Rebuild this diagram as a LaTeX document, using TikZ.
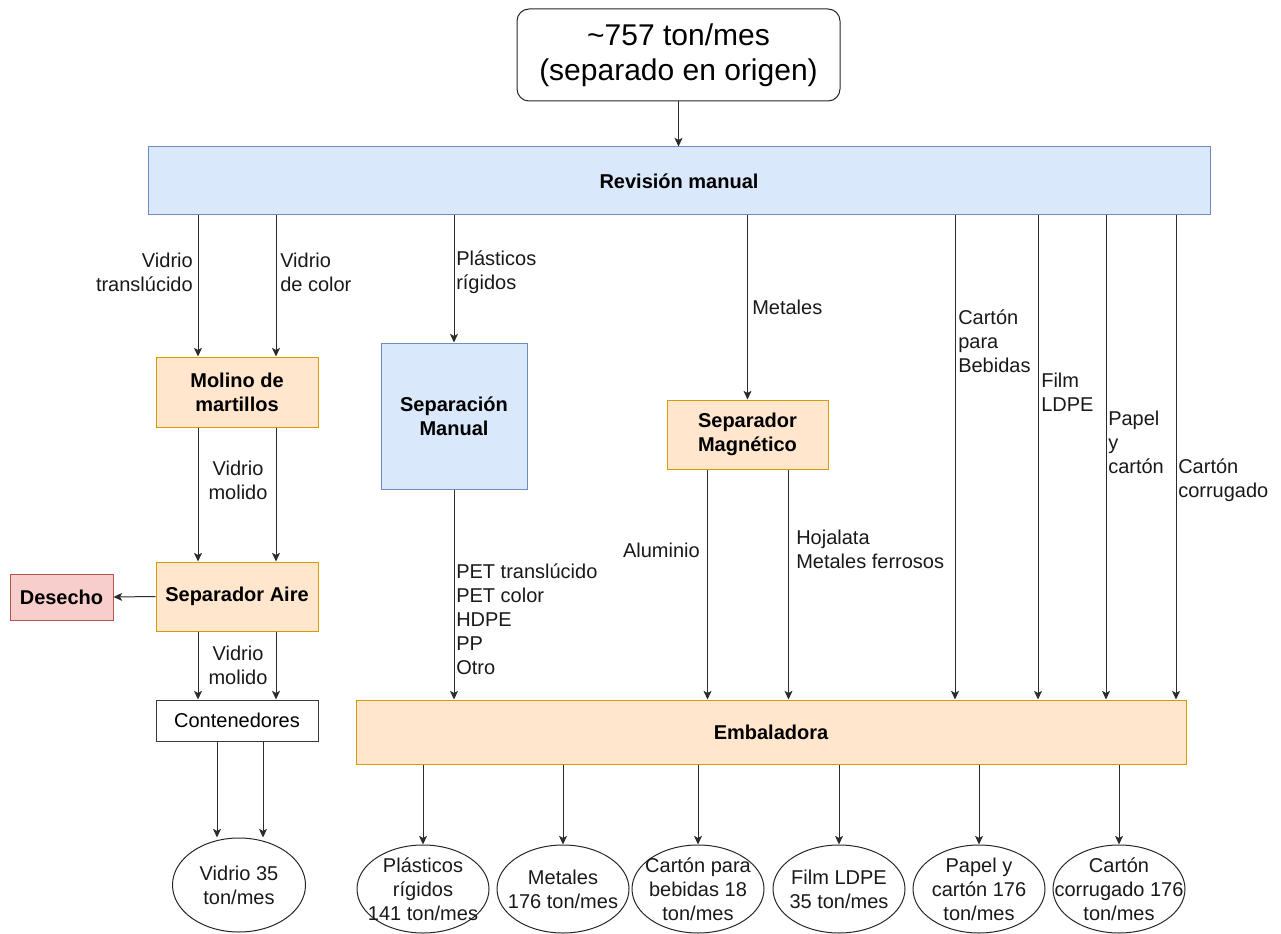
\documentclass[tikz,border=0pt]{standalone}
\usepackage{fontspec}
\setmainfont{Liberation Sans}
\usetikzlibrary{arrows.meta,calc,shapes.geometric}

\definecolor{blueFill}{HTML}{DAE8FC}
\definecolor{blueLine}{HTML}{6C8EBF}
\definecolor{orangeFill}{HTML}{FFE6CC}
\definecolor{orangeLine}{HTML}{D79B00}
\definecolor{redFill}{HTML}{F8CECC}
\definecolor{redLine}{HTML}{B85450}
\definecolor{edgeGray}{HTML}{2B2B2B}
\definecolor{boxGray}{HTML}{36393D}

\newcommand{\lblfont}{\fontsize{15}{18}\selectfont}
\newcommand{\bigfont}{\fontsize{22.5}{26}\selectfont}

\begin{document}
\begin{tikzpicture}[x=0.75pt,y=-0.75pt,
  base/.style={draw, line width=0.75pt, inner sep=0pt, align=center},
  bluebox/.style={base, fill=blueFill, draw=blueLine, font=\bfseries\lblfont},
  orangebox/.style={base, fill=orangeFill, draw=orangeLine, font=\bfseries\lblfont},
  redbox/.style={base, fill=redFill, draw=redLine, font=\bfseries\lblfont},
  plainbox/.style={base, fill=white, draw=boxGray, font=\lblfont},
  startbox/.style={base, rounded corners=9pt, draw=black!85, font=\bigfont},
  result/.style={base, ellipse, draw=black!85,
                 minimum width=99pt, minimum height=66pt,
                 label={[lbl, align=center]center:#1}},
  lbl/.style={inner sep=0pt, font=\lblfont, text=black!90},
  flow/.style={draw=edgeGray, line width=0.75pt,
               -{Stealth[length=6.5pt,width=6pt,inset=1.6pt]}}
]
\useasboundingbox (0,0) rectangle (1281,934);

% ---- process boxes ----
\node[startbox, minimum width=242.25pt, minimum height=69pt] (src) at (678.5,55)
  {\textasciitilde 757 ton/mes\\(separado en origen)};
\node[bluebox, minimum width=796.5pt, minimum height=51pt] (rev) at (679,181) {Revisión manual};

\node[orangebox, minimum width=121.5pt, minimum height=52.5pt] (mol) at (237,392) {Molino de\\martillos};
\node[orangebox, minimum width=121.5pt, minimum height=51.75pt] (aire) at (237,596.5) {Separador Aire};
\node[redbox, minimum width=77.25pt, minimum height=34.5pt] (des) at (61.5,597) {Desecho};
\node[plainbox, minimum width=121.5pt, minimum height=30.75pt] (cont) at (237,720.5) {Contenedores};
\node[result={Vidrio 35\\ton/mes}, minimum width=99.75pt, minimum height=70.5pt] (vid) at (239,885) {};

\node[bluebox, minimum width=109.5pt, minimum height=109.5pt] (sman) at (454,416) {Separación\\Manual};
\node[orangebox, minimum width=120.75pt, minimum height=51.75pt] (smag) at (747.5,434.5) {Separador\\Magnético};

\node[orangebox, minimum width=622.5pt, minimum height=48pt] (emb) at (771,732) {Embaladora};

% ---- products ----
\node[result={Plásticos\\rígidos\\141 ton/mes}] (p1) at (423,889) {};
\node[result={Metales\\176 ton/mes}] (p2) at (563,889) {};
\node[result={Cartón para\\bebidas 18\\ton/mes}] (p3) at (698,889) {};
\node[result={Film LDPE\\35 ton/mes}] (p4) at (839,889) {};
\node[result={Papel y\\cartón 176\\ton/mes}] (p5) at (979,889) {};
\node[result={Cartón\\corrugado 176\\ton/mes}] (p6) at (1119,889) {};

% ---- attachment points ----
\path (mol.north) +(-39,0) coordinate (glA) +(39,0) coordinate (glB);
\path (vid.north) +(-22,0) coordinate (vdA) +(24,0) coordinate (vdB);
\path (smag.south) +(-40,0) coordinate (mgA) +(41,0) coordinate (mgB);
\path (emb.north) +(184,0) coordinate (eBeb) +(267,0) coordinate (eFilm)
                  +(335,0) coordinate (ePap) +(405,0) coordinate (eCor);

% ---- connectors ----
\draw[flow] (src.south) -- (rev.north -| src.south);

\draw[flow] (rev.south -| glA) -- (glA);
\draw[flow] (rev.south -| glB) -- (glB);
\draw[flow] (mol.south -| glA) -- (aire.north -| glA);
\draw[flow] (mol.south -| glB) -- (aire.north -| glB);
\draw[flow] (aire.west) -- (des.east);
\draw[flow] (aire.south -| glA) -- (cont.north -| glA);
\draw[flow] (aire.south -| glB) -- (cont.north -| glB);
\draw[flow] (cont.south -| vdA) -- (vdA);
\draw[flow] (cont.south -| vdB) -- (vdB);

\draw[flow] (rev.south -| sman.north) -- (sman.north);
\draw[flow] (sman.south) -- (emb.north -| sman.south);

\draw[flow] (rev.south -| smag.north) -- (smag.north);
\draw[flow] (mgA) -- (emb.north -| mgA);
\draw[flow] (mgB) -- (emb.north -| mgB);

\draw[flow] (rev.south -| eBeb) -- (eBeb);
\draw[flow] (rev.south -| eFilm) -- (eFilm);
\draw[flow] (rev.south -| ePap) -- (ePap);
\draw[flow] (rev.south -| eCor) -- (eCor);

\foreach \p in {p1,p2,p3,p4,p5,p6}
  \draw[flow] (emb.south -| \p.north) -- (\p.north);

% ---- connector labels ----
\node[lbl, anchor=east, align=right] (lVt) at (193,272.5) {Vidrio\\translúcido};
\node[lbl, anchor=west, align=left] (lVc) at (280,272.5) {Vidrio\\de color};
\node[lbl, anchor=west, align=left] (lPr) at (456,272.5) {Plásticos\\rígidos};
\node[lbl, align=center] (lVm1) at (238,480) {Vidrio\\molido};
\node[lbl, align=center] (lVm2) at (238,665) {Vidrio\\molido};
\node[lbl, anchor=west] (lMe) at (752,307) {Metales};
\node[lbl, anchor=west, align=left] (lPet) at (456,619)
  {PET translúcido\\PET color\\HDPE\\PP\\Otro};
\node[lbl, anchor=east] (lAl) at (700,550) {Aluminio};
\node[lbl, anchor=west, align=left] (lHo) at (796,549.5) {Hojalata\\Metales ferrosos};
\node[lbl, anchor=west, align=left] (lCb) at (958,341.5) {Cartón\\para\\Bebidas};
\node[lbl, anchor=west, align=left] (lFi) at (1041,392.5) {Film\\LDPE};
\node[lbl, anchor=west, align=left] (lPa) at (1108,442) {Papel\\y\\cartón};
\node[lbl, anchor=west, align=left] (lCc) at (1178,480) {Cartón\\corrugado};
\end{tikzpicture}
\end{document}
